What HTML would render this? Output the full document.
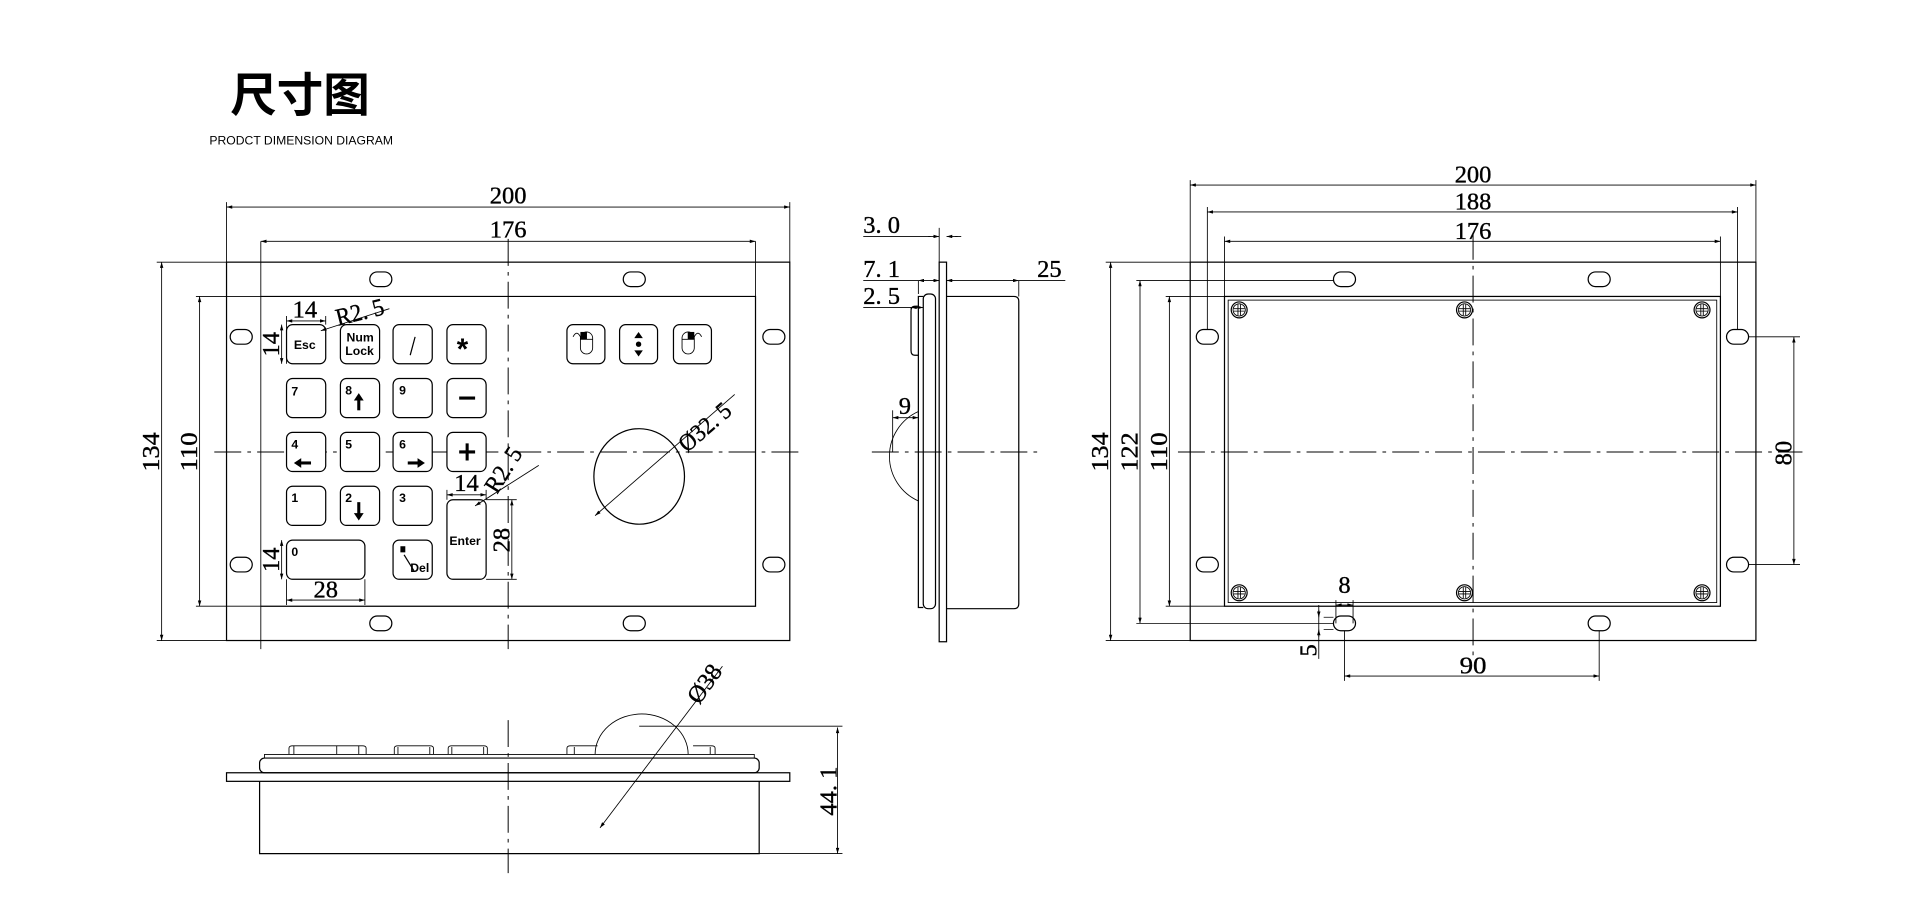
<!DOCTYPE html>
<html><head><meta charset="utf-8"><style>
html,body{margin:0;padding:0;background:#fff;width:1920px;height:899px;overflow:hidden}
svg{display:block}
.l{stroke:#000;stroke-width:1;fill:none}
.t{stroke:#000;stroke-width:.7;fill:none}
.c{stroke:#000;stroke-width:.8;fill:none;stroke-dasharray:22 5 3 5}
.d{font-family:"Liberation Serif",serif;font-size:20px;fill:#000;stroke:#000;stroke-width:.3}
.k{font-family:"Liberation Sans",sans-serif;font-size:10px;font-weight:bold;fill:#000}
.key{stroke:#000;stroke-width:1;fill:#fff}
</style></head><body>
<svg width="1920" height="899" viewBox="0 0 1568 734" xmlns="http://www.w3.org/2000/svg">
<defs>
<marker id="a" viewBox="0 0 10 6" refX="10" refY="3" markerWidth="7" markerHeight="4" orient="auto-start-reverse"><path d="M0,0L10,3L0,6z" fill="#000"/></marker>
<g id="slot"><rect x="-9" y="-6" width="18" height="12" rx="6" class="l"/></g>
<g id="scr"><circle r="6.5" class="l"/><circle r="5" class="t"/><path d="M-1,-4.5V4.5M1,-4.5V4.5M-4.5,-1H4.5M-4.5,1H4.5" class="t"/></g>
</defs>

<!-- title -->
<text x="188" y="91" style="font-family:'Noto Sans CJK SC',sans-serif;font-weight:bold;font-size:38px">尺寸图</text>
<text x="171" y="118" style="font-family:'Liberation Sans',sans-serif;font-size:9.5px" textLength="150" lengthAdjust="spacingAndGlyphs">PRODCT DIMENSION DIAGRAM</text>

<!-- ============ FRONT VIEW ============ -->
<rect x="185" y="214" width="460" height="309" class="l"/>
<path d="M213,242H617V495H213" class="l"/>
<path d="M213,197V530M617,197V242M185,165V214M645,165V214" class="t"/>
<path d="M128,214H185M128,523H185M160,242H213M160,495H213" class="t"/>
<path d="M415,195V530" class="c"/>
<path d="M175,369H655" class="c"/>
<use href="#slot" x="311" y="228"/><use href="#slot" x="518" y="228"/>
<use href="#slot" x="311" y="509"/><use href="#slot" x="518" y="509"/>
<use href="#slot" x="197" y="275"/><use href="#slot" x="632" y="275"/>
<use href="#slot" x="197" y="461"/><use href="#slot" x="632" y="461"/>
<!-- dims -->
<line x1="185" y1="169" x2="645" y2="169" class="t" marker-start="url(#a)" marker-end="url(#a)"/>
<text class="d" x="400" y="166" textLength="30" lengthAdjust="spacingAndGlyphs">200</text>
<line x1="213" y1="197" x2="617" y2="197" class="t" marker-start="url(#a)" marker-end="url(#a)"/>
<text class="d" x="400" y="194" textLength="30" lengthAdjust="spacingAndGlyphs">176</text>
<line x1="132" y1="214" x2="132" y2="523" class="t" marker-start="url(#a)" marker-end="url(#a)"/>
<text class="d" transform="translate(130,385) rotate(-90)" textLength="32" lengthAdjust="spacingAndGlyphs">134</text>
<line x1="163" y1="242" x2="163" y2="495" class="t" marker-start="url(#a)" marker-end="url(#a)"/>
<text class="d" transform="translate(161,385) rotate(-90)" textLength="32" lengthAdjust="spacingAndGlyphs">110</text>

<!-- keys -->
<g>
<rect class="key" x="234" y="265" width="32" height="32" rx="5"/><text class="k" x="240" y="285">Esc</text>
<rect class="key" x="278" y="265" width="32" height="32" rx="5"/><text class="k" x="283" y="279">Num</text><text class="k" x="282" y="290">Lock</text>
<rect class="key" x="321" y="265" width="32" height="32" rx="5"/><path d="M339,275L335,290" class="l"/>
<rect class="key" x="365" y="265" width="32" height="32" rx="5"/><text x="373" y="293" style="font-family:'Liberation Sans',sans-serif;font-size:24px;font-weight:bold">*</text>

<rect class="key" x="234" y="309" width="32" height="32" rx="5"/><text class="k" x="238" y="323">7</text>
<rect class="key" x="278" y="309" width="32" height="32" rx="5"/><text class="k" x="282" y="322">8</text><path d="M293,335V325" stroke="#000" stroke-width="2.5"/><path d="M289,327L293,321L297,327z"/>
<rect class="key" x="321" y="309" width="32" height="32" rx="5"/><text class="k" x="326" y="322">9</text>
<rect class="key" x="365" y="309" width="32" height="32" rx="5"/><path d="M375,325H388" stroke="#000" stroke-width="2.5"/>

<rect class="key" x="234" y="353" width="32" height="32" rx="5"/><text class="k" x="238" y="366">4</text><path d="M254,378H244" stroke="#000" stroke-width="2.5"/><path d="M246,374L240,378L246,382z"/>
<rect class="key" x="278" y="353" width="32" height="32" rx="5"/><text class="k" x="282" y="366">5</text>
<rect class="key" x="321" y="353" width="32" height="32" rx="5"/><text class="k" x="326" y="366">6</text><path d="M333,378H343" stroke="#000" stroke-width="2.5"/><path d="M341,374L347,378L341,382z"/>
<rect class="key" x="365" y="353" width="32" height="32" rx="5"/><path d="M375,369H388M381.5,362V376" stroke="#000" stroke-width="2.5"/>

<rect class="key" x="234" y="397" width="32" height="32" rx="5"/><text class="k" x="238" y="410">1</text>
<rect class="key" x="278" y="397" width="32" height="32" rx="5"/><text class="k" x="282" y="410">2</text><path d="M293,410V421" stroke="#000" stroke-width="2.5"/><path d="M289,419L293,425L297,419z"/>
<rect class="key" x="321" y="397" width="32" height="32" rx="5"/><text class="k" x="326" y="410">3</text>
<rect class="key" x="365" y="408" width="32" height="65" rx="5"/><text class="k" x="367" y="445">Enter</text>

<rect class="key" x="234" y="441" width="64" height="32" rx="5"/><text class="k" x="238" y="454">0</text>
<rect class="key" x="321" y="441" width="32" height="32" rx="5"/><rect x="327" y="446" width="4" height="5"/><path d="M330,453L338,466" class="l" stroke-width="1.5"/><text class="k" x="335" y="467">Del</text>
</g>
<!-- mouse keys -->
<g>
<rect class="key" x="463" y="265" width="31" height="32" rx="5"/>
<rect x="474" y="271" width="10" height="18" rx="5" class="t"/><path d="M474,277H484M479,271V277" class="t"/><rect x="474" y="271" width="5" height="6"/><path d="M474,275q-3,-6 -6,0" class="t"/>
<rect class="key" x="506" y="265" width="31" height="32" rx="5"/>
<path d="M518,276L521.5,271L525,276zM518,286L521.5,291L525,286z"/><circle cx="521.5" cy="281" r="2.2"/>
<rect class="key" x="550" y="265" width="31" height="32" rx="5"/>
<rect x="557" y="271" width="10" height="18" rx="5" class="t"/><path d="M557,277H567M562,271V277" class="t"/><rect x="562" y="271" width="5" height="6"/><path d="M567,275q3,-6 6,0" class="t"/>
</g>
<!-- trackball -->
<ellipse cx="522" cy="389" rx="37" ry="39" class="l"/>
<line x1="486" y1="421" x2="600" y2="322" class="t" marker-start="url(#a)"/>
<text class="d" transform="translate(561,370) rotate(-41)" textLength="50" lengthAdjust="spacingAndGlyphs">Ø32. 5</text>
<!-- small dims -->
<line x1="234" y1="262" x2="266" y2="262" class="t" marker-start="url(#a)" marker-end="url(#a)"/>
<path d="M234,258V297M266,258V265" class="t"/>
<text class="d" x="239" y="259" textLength="20" lengthAdjust="spacingAndGlyphs">14</text>
<line x1="318" y1="252" x2="262" y2="270" class="t" marker-end="url(#a)"/>
<text class="d" transform="translate(276,266) rotate(-14)" textLength="40" lengthAdjust="spacingAndGlyphs">R2. 5</text>
<line x1="230" y1="265" x2="230" y2="297" class="t" marker-start="url(#a)" marker-end="url(#a)"/>
<text class="d" transform="translate(228,291) rotate(-90)" textLength="20" lengthAdjust="spacingAndGlyphs">14</text>
<line x1="230" y1="441" x2="230" y2="473" class="t" marker-start="url(#a)" marker-end="url(#a)"/>
<text class="d" transform="translate(228,467) rotate(-90)" textLength="20" lengthAdjust="spacingAndGlyphs">14</text>
<line x1="234" y1="490" x2="298" y2="490" class="t" marker-start="url(#a)" marker-end="url(#a)"/>
<path d="M234,473V494M298,473V494" class="t"/>
<text class="d" x="256" y="488" textLength="20" lengthAdjust="spacingAndGlyphs">28</text>
<line x1="365" y1="404" x2="397" y2="404" class="t" marker-start="url(#a)" marker-end="url(#a)"/>
<path d="M365,400V408M397,400V408" class="t"/>
<text class="d" x="371" y="401" textLength="20" lengthAdjust="spacingAndGlyphs">14</text>
<line x1="440" y1="380" x2="388" y2="413" class="t" marker-end="url(#a)"/>
<text class="d" transform="translate(406,404) rotate(-58)" textLength="40" lengthAdjust="spacingAndGlyphs">R2. 5</text>
<line x1="418" y1="408" x2="418" y2="473" class="t" marker-start="url(#a)" marker-end="url(#a)"/>
<path d="M397,408H422M397,473H422" class="t"/>
<text class="d" transform="translate(416,451) rotate(-90)" textLength="20" lengthAdjust="spacingAndGlyphs">28</text>

<!-- ============ SIDE VIEW ============ -->
<rect x="767" y="214" width="6" height="310" class="l"/>
<rect x="754" y="240" width="10" height="257" rx="4" class="l"/>
<path d="M754,242H750V496H754" class="l"/>
<path d="M773,242H828q4,0 4,4V493q0,4 -4,4H773" class="l"/>
<path d="M750,250H747q-3,0 -3,4V286q0,4 3,4H750" class="l"/>
<path d="M750,336A40,40 0 0 0 750,409" class="t"/>
<path d="M712,369H848" class="c"/>
<!-- dims -->
<path d="M705,193H760M780,193H785" class="t"/>
<line x1="758" y1="193" x2="767" y2="193" class="t" marker-end="url(#a)"/><line x1="782" y1="193" x2="773" y2="193" class="t" marker-end="url(#a)"/>
<path d="M767,186V214" class="t"/>
<text class="d" x="705" y="190" textLength="30" lengthAdjust="spacingAndGlyphs">3. 0</text>
<path d="M705,229H750M832,229H870M750,229V240" class="t"/>
<line x1="750" y1="229" x2="767" y2="229" class="t" marker-start="url(#a)" marker-end="url(#a)"/>
<line x1="773" y1="229" x2="832" y2="229" class="t" marker-start="url(#a)" marker-end="url(#a)"/>
<path d="M832,229V242" class="t"/>
<text class="d" x="705" y="226" textLength="30" lengthAdjust="spacingAndGlyphs">7. 1</text>
<text class="d" x="847" y="226" textLength="20" lengthAdjust="spacingAndGlyphs">25</text>
<path d="M705,251H744M744,251V258" class="t"/>
<line x1="744" y1="251" x2="754" y2="251" class="t" marker-start="url(#a)" marker-end="url(#a)"/>
<text class="d" x="705" y="248" textLength="30" lengthAdjust="spacingAndGlyphs">2. 5</text>
<line x1="729" y1="341" x2="750" y2="341" class="t" marker-start="url(#a)" marker-end="url(#a)"/>
<path d="M729,335V369" class="t"/>
<text class="d" x="734" y="338">9</text>

<!-- ============ BOTTOM VIEW ============ -->
<rect x="185" y="631" width="460" height="7" class="l"/>
<rect x="212" y="619" width="408" height="12" rx="4" class="l"/>
<path d="M216,619V616H616V619" class="t"/>
<path d="M212,638V697H620V638" class="l"/>
<path d="M236,616V611q0,-2 3,-2H296q3,0 3,2V616M240,609V616M293,609V616M275,609V616" class="t"/>
<path d="M322,616V611q0,-2 3,-2H351q3,0 3,2V616M325,616V610M351,616V610" class="t"/>
<path d="M366,616V611q0,-2 3,-2H395q3,0 3,2V616M369,616V610M395,616V610" class="t"/>
<path d="M463,616V611q0,-2 3,-2H488M566,609H581q3,0 3,2V616M469,616V610M580,616V610" class="t"/>
<path d="M486,616A38,33 0 0 1 562,616" class="t"/>
<path d="M415,588V713" class="c"/>
<path d="M522,593H688M620,697H688" class="t"/>
<line x1="684" y1="594" x2="684" y2="697" class="t" marker-start="url(#a)" marker-end="url(#a)"/>
<text class="d" transform="translate(683,666) rotate(-90)" textLength="40" lengthAdjust="spacingAndGlyphs">44. 1</text>
<line x1="590" y1="544" x2="490" y2="676" class="t" marker-end="url(#a)"/>
<text class="d" transform="translate(571,576) rotate(-55)" textLength="34" lengthAdjust="spacingAndGlyphs">Ø38</text>

<!-- ============ BACK VIEW ============ -->
<rect x="972" y="214" width="462" height="309" class="l"/>
<rect x="1000" y="242" width="405" height="253" class="l"/>
<rect x="1003" y="245" width="399" height="247" class="t"/>
<path d="M1203,190V535" class="c"/>
<path d="M962,369H1472" class="c"/>
<use href="#scr" x="1012" y="253"/><use href="#scr" x="1196" y="253"/><use href="#scr" x="1390" y="253"/>
<use href="#scr" x="1012" y="484"/><use href="#scr" x="1196" y="484"/><use href="#scr" x="1390" y="484"/>
<use href="#slot" x="1098" y="228"/><use href="#slot" x="1306" y="228"/>
<use href="#slot" x="1098" y="509"/><use href="#slot" x="1306" y="509"/>
<use href="#slot" x="986" y="275"/><use href="#slot" x="1419" y="275"/>
<use href="#slot" x="986" y="461"/><use href="#slot" x="1419" y="461"/>
<!-- dims -->
<path d="M972,147V214M1434,147V214M986,169V269M1419,169V269M1000,193V242M1405,193V242" class="t"/>
<line x1="972" y1="151" x2="1434" y2="151" class="t" marker-start="url(#a)" marker-end="url(#a)"/>
<text class="d" x="1188" y="149" textLength="30" lengthAdjust="spacingAndGlyphs">200</text>
<line x1="986" y1="173" x2="1419" y2="173" class="t" marker-start="url(#a)" marker-end="url(#a)"/>
<text class="d" x="1188" y="171" textLength="30" lengthAdjust="spacingAndGlyphs">188</text>
<line x1="1000" y1="197" x2="1405" y2="197" class="t" marker-start="url(#a)" marker-end="url(#a)"/>
<text class="d" x="1188" y="195" textLength="30" lengthAdjust="spacingAndGlyphs">176</text>
<path d="M903,214H972M903,523H972M928,229H1089M928,509H1089M952,242H1000M952,495H1000" class="t"/>
<line x1="907" y1="214" x2="907" y2="523" class="t" marker-start="url(#a)" marker-end="url(#a)"/>
<text class="d" transform="translate(905,385) rotate(-90)" textLength="32" lengthAdjust="spacingAndGlyphs">134</text>
<line x1="931" y1="229" x2="931" y2="509" class="t" marker-start="url(#a)" marker-end="url(#a)"/>
<text class="d" transform="translate(929,385) rotate(-90)" textLength="32" lengthAdjust="spacingAndGlyphs">122</text>
<line x1="955" y1="242" x2="955" y2="495" class="t" marker-start="url(#a)" marker-end="url(#a)"/>
<text class="d" transform="translate(953,385) rotate(-90)" textLength="32" lengthAdjust="spacingAndGlyphs">110</text>
<path d="M1428,275H1470M1428,461H1470" class="t"/>
<line x1="1465" y1="275" x2="1465" y2="461" class="t" marker-start="url(#a)" marker-end="url(#a)"/>
<text class="d" transform="translate(1463,380) rotate(-90)" textLength="20" lengthAdjust="spacingAndGlyphs">80</text>
<path d="M1098,515V556M1306,515V556" class="t"/>
<line x1="1098" y1="552" x2="1306" y2="552" class="t" marker-start="url(#a)" marker-end="url(#a)"/>
<text class="d" x="1192" y="550" textLength="22" lengthAdjust="spacingAndGlyphs">90</text>
<path d="M1091,490V509M1105,490V509" class="t"/>
<line x1="1091" y1="494" x2="1105" y2="494" class="t" marker-start="url(#a)" marker-end="url(#a)"/>
<text class="d" x="1093" y="484">8</text>
<path d="M1081,504H1089M1081,514H1089M1077,494V538" class="t"/>
<line x1="1077" y1="498" x2="1077" y2="504" class="t" marker-end="url(#a)"/>
<line x1="1077" y1="520" x2="1077" y2="514" class="t" marker-end="url(#a)"/>
<text class="d" transform="translate(1075,536) rotate(-90)">5</text>
</svg>
</body></html>
